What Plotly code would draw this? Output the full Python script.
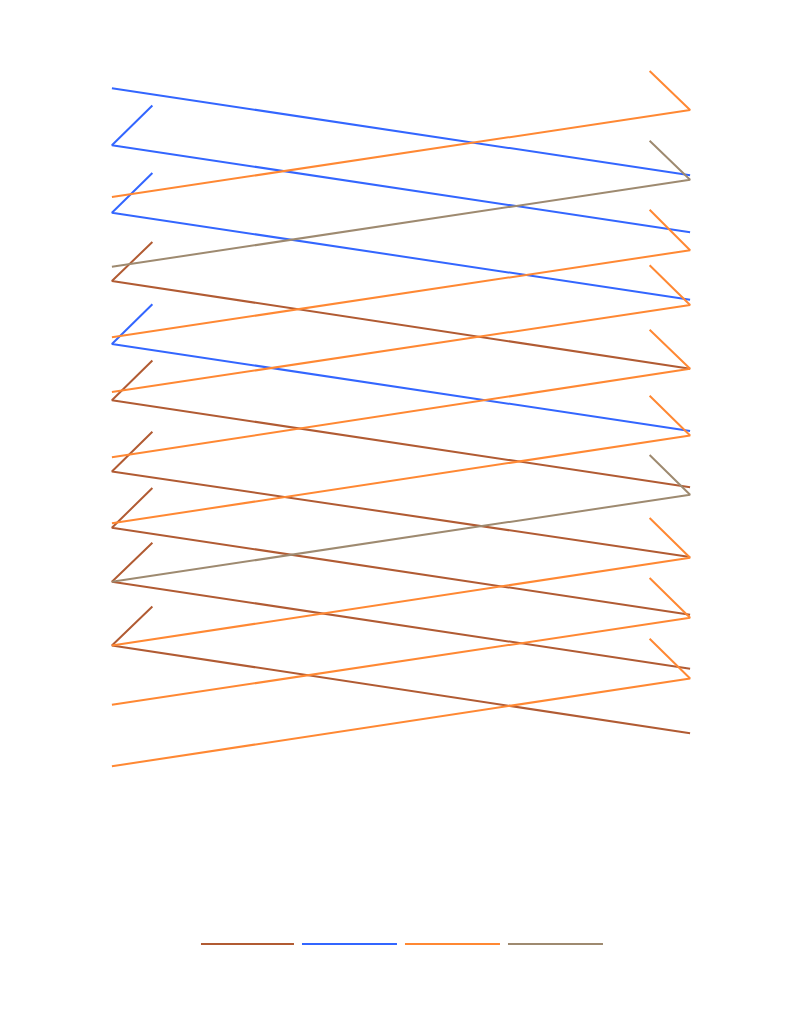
import plotly.graph_objects as go

# y values (0..100 scale), left end / right end of every line
# short "flag" strokes: left_flag sits near the left end, right_flag near the right end
brown_left = [69.2, 53.3, 43.8, 36.3, 29.1, 20.6]
brown_right = [57.5, 41.7, 32.4, 24.7, 17.5, 8.9]
brown_left_flag = [74.4, 58.6, 49.1, 41.6, 34.3, 25.8]

blue_left = [94.9, 87.3, 78.3, 60.8]
blue_right = [83.3, 75.7, 66.7, 49.2]
blue_left_flag = [None, 92.6, 83.6, 66.1]

orange_left = [80.4, 61.7, 54.4, 45.7, 36.9, 20.6, 12.7, 4.5]
orange_right = [92.0, 73.3, 66.0, 57.5, 48.6, 32.3, 24.3, 16.2]
orange_right_flag = [97.2, 78.7, 71.3, 62.7, 53.9, 37.6, 29.6, 21.5]

gray_left = [71.1, 29.1]
gray_right = [82.7, 40.7]
gray_right_flag = [87.9, 46.0]

x_left, x_right = 0, 1
flag_dx = 0.07

series = [
    ("#b15b33", brown_left, brown_right, brown_left_flag, None),
    ("#3366ff", blue_left, blue_right, blue_left_flag, None),
    ("#ff8833", orange_left, orange_right, None, orange_right_flag),
    ("#9e8a70", gray_left, gray_right, None, gray_right_flag),
]

fig = go.Figure()
for color, left, right, lflag, rflag in series:
    xs, ys = [], []
    for i in range(len(left)):
        if lflag and lflag[i] is not None:
            xs.append(x_left + flag_dx)
            ys.append(lflag[i])
        xs += [x_left, x_right]
        ys += [left[i], right[i]]
        if rflag and rflag[i] is not None:
            xs.append(x_right - flag_dx)
            ys.append(rflag[i])
        xs.append(None)
        ys.append(None)
    fig.add_trace(go.Scatter(x=xs, y=ys, mode="lines", name="",
                             line=dict(color=color, width=2)))

fig.update_layout(
    width=798, height=1022,
    plot_bgcolor="white", paper_bgcolor="white",
    margin=dict(l=75, r=87, t=42, b=230),
    xaxis=dict(range=[-0.05, 1.05], visible=False),
    yaxis=dict(range=[0, 100], visible=False),
    showlegend=True,
    legend=dict(orientation="h", x=0.5094, xanchor="center", y=-0.192, yanchor="middle",
                itemwidth=95, indentation=-7, font=dict(size=12)),
)

fig.write_html("out.html")
